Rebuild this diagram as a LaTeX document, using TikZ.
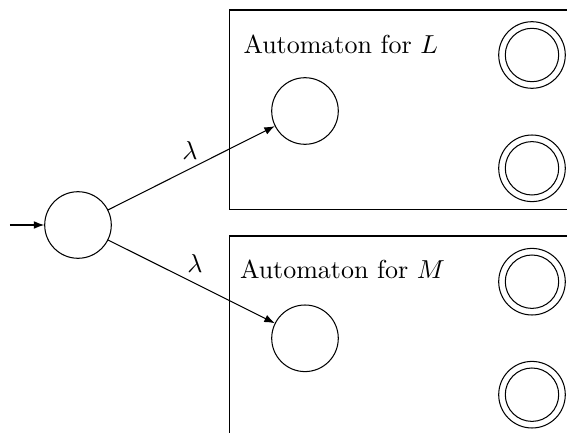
\documentclass[tikz,border=0pt]{standalone}
\usetikzlibrary{arrows.meta}
\begin{document}
\begin{tikzpicture}[x=0.385pt,y=-0.385pt,
  state/.style={circle,draw,minimum size=25.64pt,inner sep=0pt},
  acc/.style={state},
  arr/.style={-{Latex[length=4pt,width=3pt]}},
  lbl/.style={inner sep=0pt,anchor=base west},
  box/.style={draw}]
\useasboundingbox (0,0) rectangle (567,433);
% boxes
\draw[box] (567,10) -- (229.5,10) -- (229.5,209.3) -- (567,209.3);
\draw[box] (567,236) -- (229.5,236) -- (229.5,433);
% labels
\node[lbl] (tL) at (243,53.3) {Automaton for $L$};
\node[lbl] (tM) at (239.5,278.3) {Automaton for $M$};
% states
\node[state] (s0) at (78,225) {};
\node[state] (sL) at (305,111) {};
\node[state] (sM) at (305,338.3) {};
\node[acc] (a1) at (532,55) {};
\node[acc] (a2) at (532,168.3) {};
\node[acc] (a3) at (532,281.7) {};
\node[acc] (a4) at (532,394.7) {};
\foreach \n in {a1,a2,a3,a4} \draw (\n) circle[radius=10.28pt];
% connectors
\coordinate (init) at (10,225);
\draw[arr] (init) -- (s0);
\draw[arr] (s0) -- (sL);
\draw[arr] (s0) -- (sM);
\node (l1) at (190,150) {$\lambda$};
\node (l2) at (195,263) {$\lambda$};
\end{tikzpicture}
\end{document}
